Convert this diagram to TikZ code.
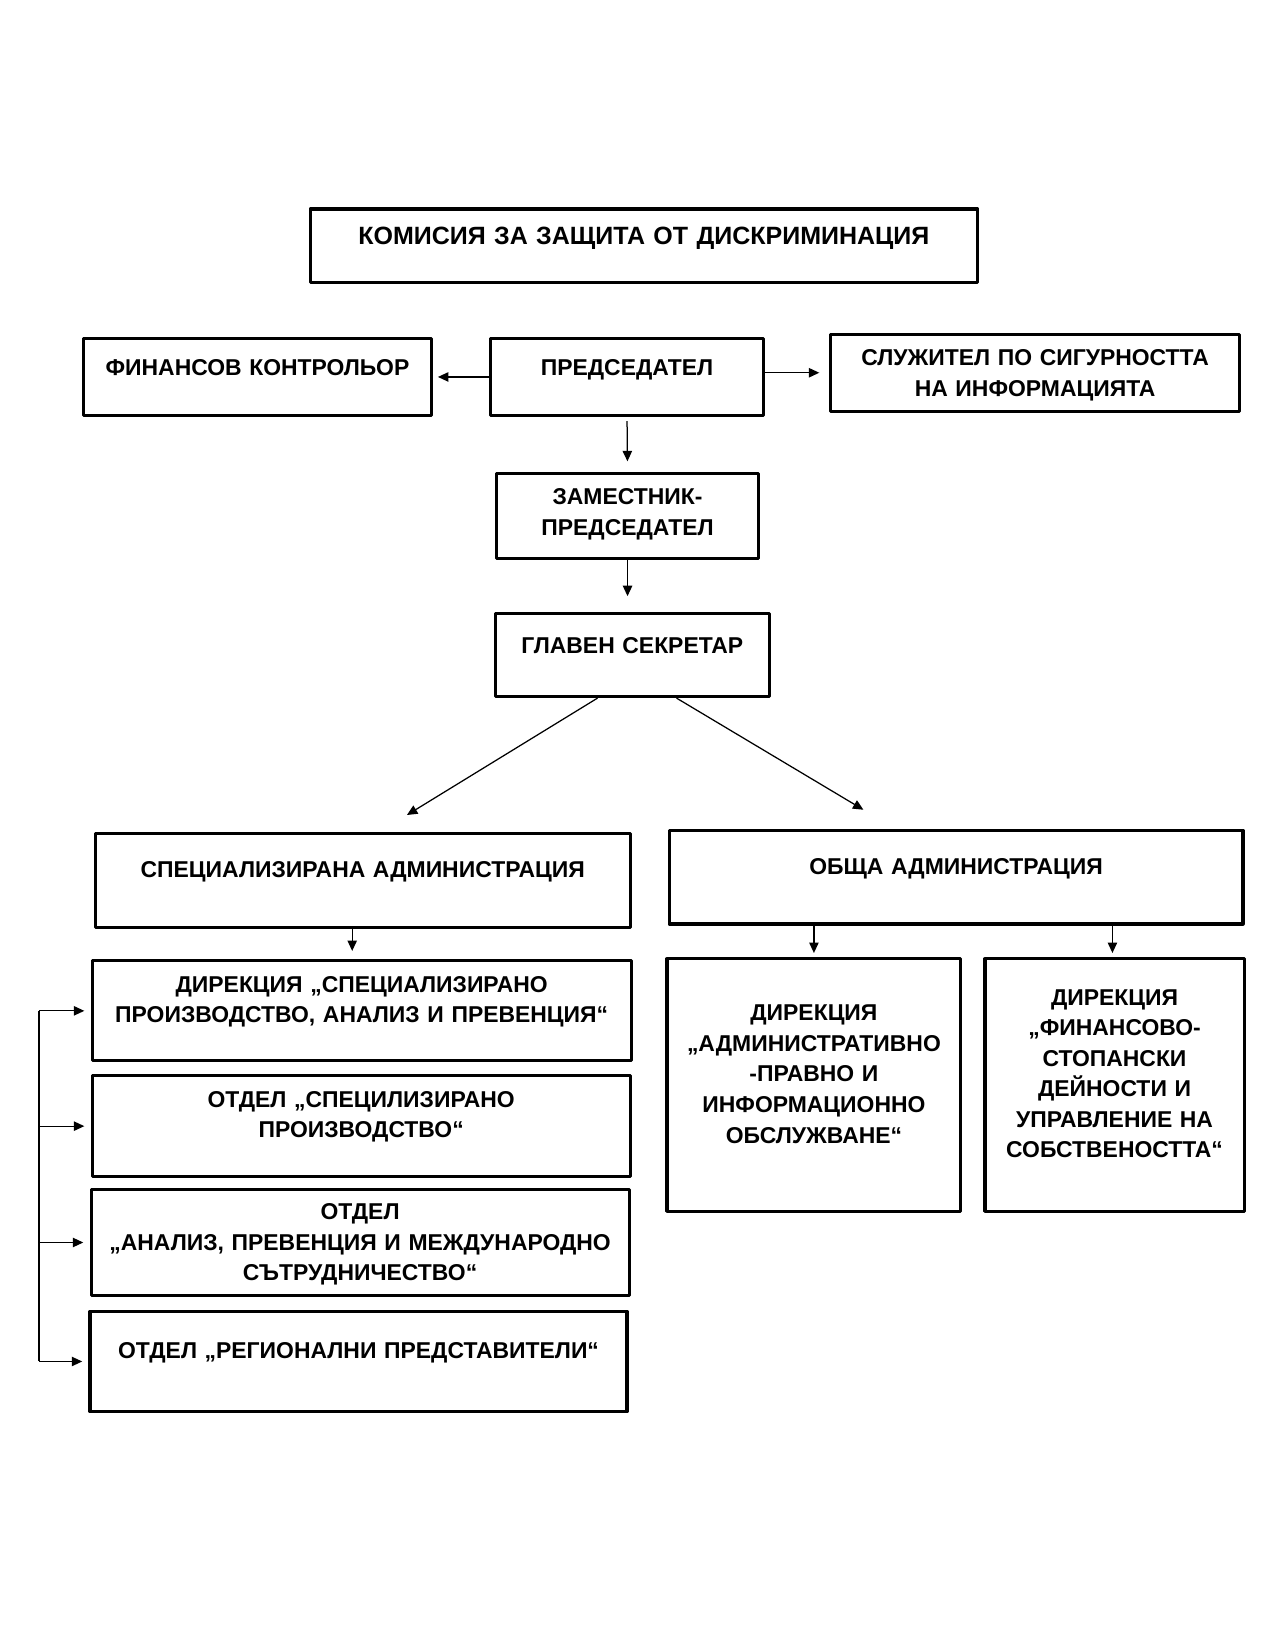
\documentclass[tikz,border=0pt]{standalone}
\usepackage{fontspec}
\setmainfont{Liberation Sans}
\usetikzlibrary{arrows.meta}
\newdimen\pxu \pxu=0.5054pt
\tikzset{
  unit/.style={draw, line width=1.5pt, anchor=north west, inner sep=0pt, align=center},
  link/.style={line width=0.6pt, ->}
}
\begin{document}
\begin{tikzpicture}[x=0.5054pt, y=-0.5054pt, font=\fontsize{11}{14.66}\selectfont\bfseries, line join=round, >={Triangle[length=5pt,width=4.5pt]}]
  \useasboundingbox (0,0) rectangle (1211,1567);
  % ръководство
  \node[unit, font=\fontsize{12}{14.66}\selectfont\bfseries, minimum width=634\pxu, text width=620\pxu, text height=33.5\pxu, text depth=36.5\pxu] (kzd) at (293,197) {КОМИСИЯ ЗА ЗАЩИТА ОТ ДИСКРИМИНАЦИЯ};
  \node[unit, minimum width=330\pxu, text width=316\pxu, text height=35\pxu, text depth=38\pxu] (fin) at (78,320) {ФИНАНСОВ КОНТРОЛЬОР};
  \node[unit, minimum width=260\pxu, text width=246\pxu, text height=35\pxu, text depth=38\pxu] (pred) at (464,320) {ПРЕДСЕДАТЕЛ};
  \node[unit, minimum width=389\pxu, text width=375\pxu, text height=30\pxu, text depth=43\pxu] (sluz) at (787,316) {СЛУЖИТЕЛ ПО СИГУРНОСТТА\\НА ИНФОРМАЦИЯТА};
  \node[unit, minimum width=249\pxu, text width=235\pxu, text height=30\pxu, text depth=51\pxu] (zam) at (470,448) {ЗАМЕСТНИК-\\ПРЕДСЕДАТЕЛ};
  \node[unit, minimum width=260\pxu, text width=246\pxu, text height=38\pxu, text depth=41\pxu] (glav) at (469,581) {ГЛАВЕН СЕКРЕТАР};
  % администрации
  \node[unit, minimum width=508\pxu, text width=494\pxu, text height=42\pxu, text depth=47\pxu] (spec) at (89,790) {СПЕЦИАЛИЗИРАНА АДМИНИСТРАЦИЯ};
  \node[unit, minimum width=545\pxu, text width=531\pxu, text height=42\pxu, text depth=47\pxu] (obsta) at (634,787) {ОБЩА АДМИНИСТРАЦИЯ};
  % звена
  \node[unit, minimum width=512\pxu, text width=498\pxu, text height=30\pxu, text depth=65\pxu] (dir1) at (86,911) {ДИРЕКЦИЯ „СПЕЦИАЛИЗИРАНО\\ПРОИЗВОДСТВО, АНАЛИЗ И ПРЕВЕНЦИЯ“};
  \node[unit, minimum width=511\pxu, text width=497\pxu, text height=30\pxu, text depth=66\pxu] (otd1) at (86,1020) {ОТДЕЛ „СПЕЦИЛИЗИРАНО\\ПРОИЗВОДСТВО“};
  \node[unit, minimum width=511\pxu, text width=497\pxu, text height=29\pxu, text depth=72\pxu] (otd2) at (85,1128) {ОТДЕЛ\\„АНАЛИЗ, ПРЕВЕНЦИЯ И МЕЖДУНАРОДНО\\СЪТРУДНИЧЕСТВО“};
  \node[unit, minimum width=510\pxu, text width=496\pxu, text height=45\pxu, text depth=50\pxu] (otd3) at (84,1244) {ОТДЕЛ „РЕГИОНАЛНИ ПРЕДСТАВИТЕЛИ“};
  \node[unit, minimum width=279\pxu, text width=265\pxu, text height=59\pxu, text depth=181\pxu] (dirA) at (632,909) {ДИРЕКЦИЯ\\„АДМИНИСТРАТИВНО\\-ПРАВНО И\\ИНФОРМАЦИОННО\\ОБСЛУЖВАНЕ“};
  \node[unit, minimum width=246\pxu, text width=238\pxu, text height=44\pxu, text depth=196\pxu] (dirF) at (934,909) {ДИРЕКЦИЯ\\„ФИНАНСОВО-\\СТОПАНСКИ\\ДЕЙНОСТИ И\\УПРАВЛЕНИЕ НА\\СОБСТВЕНОСТТА“};
  % връзки
  \draw[link, shorten >=2.5pt] (pred.west) -- (fin.east);
  \draw[link, shorten >=4.5pt] (pred.east |- sluz.west) -- (sluz.west);
  \draw[link, shorten <=2pt, shorten >=5pt] (pred.south) -- (zam.north);
  \draw[link, shorten >=7.5pt] (zam.south) -- (zam.south |- glav.north);
  \draw[link] ([xshift=-33\pxu]glav.south) -- ([xshift=42\pxu, yshift=16\pxu]spec.north);
  \draw[link] ([xshift=42\pxu]glav.south) -- ([xshift=-88\pxu, yshift=18\pxu]obsta.north);
  \draw[link, shorten >=4pt] ([xshift=-10\pxu]spec.south) -- ([xshift=-9\pxu]dir1.north);
  \draw[link, shorten >=2pt] (dirA.north |- obsta.south) -- (dirA.north);
  \draw[link, shorten >=2pt] ([xshift=-2\pxu]dirF.north |- obsta.south) -- ([xshift=-2\pxu]dirF.north);
  \coordinate (rail) at (37,0);
  \draw[line width=0.6pt] (rail |- dir1.west) -- (rail |- otd3.west);
  \foreach \n in {dir1,otd1,otd2,otd3}
    \draw[link, shorten >=3pt] (rail |- \n.west) -- (\n.west);
\end{tikzpicture}
\end{document}
